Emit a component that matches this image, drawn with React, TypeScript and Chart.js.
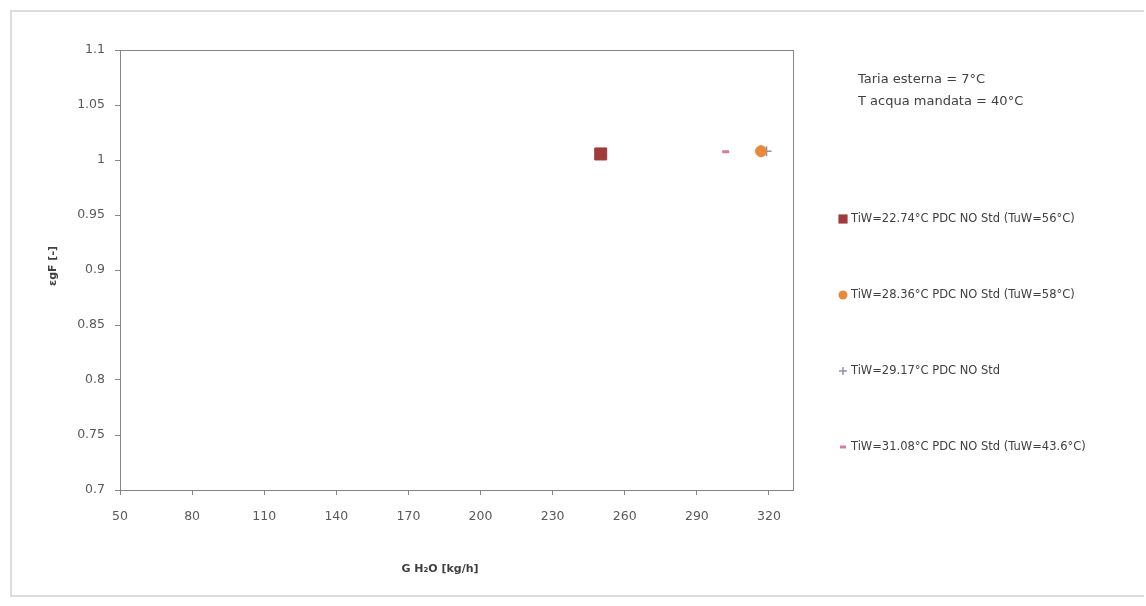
import React, { useEffect, useRef } from "react";
import { Chart, registerables } from "chart.js";

Chart.register(...registerables);

const seriesLabels = [
  "TiW=22.74°C PDC NO Std (TuW=56°C)",
  "TiW=28.36°C PDC NO Std (TuW=58°C)",
  "TiW=29.17°C PDC NO Std",
  "TiW=31.08°C PDC NO Std (TuW=43.6°C)",
];
const seriesX = [250, 316.7, 319, 302];
const seriesY = [1.0055, 1.008, 1.008, 1.0075];
const seriesColors = ["#A13B3B", "#E8893A", "#8E90BE", "#D57AA2"];
const seriesStyles = ["rect", "circle", "cross", "line"];
const seriesRadius = [8.5, 5.5, 5, 3.5];
const legendRadius = [6.5, 4.5, 4, 3];
const xTickValues = [50, 80, 110, 140, 170, 200, 230, 260, 290, 320];
const yTickValues = [0.7, 0.75, 0.8, 0.85, 0.9, 0.95, 1, 1.05, 1.1];
const noteLines = ["Taria esterna = 7°C", "T acqua mandata = 40°C"];
const xTitle = "G H₂O [kg/h]";
const yTitle = "εgF [-]";

const FONT = "'DejaVu Sans', 'Liberation Sans', sans-serif";

function drawMarker(ctx: CanvasRenderingContext2D, style: string, r: number, x: number, y: number) {
  ctx.beginPath();
  if (style === "rect") {
    const s = Math.SQRT1_2 * r;
    ctx.rect(x - s, y - s, 2 * s, 2 * s);
    ctx.fill();
  } else if (style === "circle") {
    ctx.arc(x, y, r, 0, Math.PI * 2);
    ctx.fill();
  } else if (style === "cross") {
    ctx.moveTo(x - r, y);
    ctx.lineTo(x + r, y);
    ctx.moveTo(x, y - r);
    ctx.lineTo(x, y + r);
    ctx.stroke();
  } else {
    ctx.moveTo(x - r, y);
    ctx.lineTo(x + r, y);
    ctx.stroke();
  }
}

export default function App() {
  const ref = useRef<HTMLCanvasElement | null>(null);
  useEffect(() => {
    if (!ref.current) return;
    const overlay = {
      id: "overlay",
      beforeDatasetsDraw(chart: any) {
        const { ctx, chartArea } = chart;
        ctx.save();
        ctx.strokeStyle = "#868686";
        ctx.lineWidth = 1;
        ctx.strokeRect(
          Math.round(chartArea.left) + 0.5,
          Math.round(chartArea.top) + 0.5,
          Math.round(chartArea.right - chartArea.left),
          Math.round(chartArea.bottom - chartArea.top)
        );
        ctx.restore();
      },
      afterDraw(chart: any) {
        const { ctx } = chart;
        ctx.save();
        ctx.textBaseline = "middle";
        ctx.fillStyle = "#404040";
        ctx.font = `bold 11px ${FONT}`;
        ctx.textAlign = "center";
        ctx.fillText(xTitle, 428, 557);
        ctx.save();
        ctx.translate(41, 254);
        ctx.rotate(-Math.PI / 2);
        ctx.fillText(yTitle, 0, 0);
        ctx.restore();
        ctx.textAlign = "left";
        ctx.font = `13px ${FONT}`;
        noteLines.forEach((t, i) => ctx.fillText(t, 846, 68 + i * 22));
        ctx.font = `11.5px ${FONT}`;
        chart.data.datasets.forEach((ds: any, i: number) => {
          const y = 207 + i * 76;
          const x = 831;
          ctx.fillStyle = ds.backgroundColor;
          ctx.strokeStyle = ds.borderColor;
          ctx.lineWidth = ds.borderWidth;
          drawMarker(ctx, ds.pointStyle, legendRadius[i], x, y);
          ctx.fillStyle = "#404040";
          ctx.fillText(ds.label, 839, y);
        });
        ctx.restore();
      },
    };
    const chart = new Chart(ref.current, {
      type: "scatter",
      data: {
        datasets: seriesLabels.map((label, i) => ({
          label,
          data: [{ x: seriesX[i], y: seriesY[i] }],
          backgroundColor: seriesColors[i],
          borderColor: seriesColors[i],
          borderWidth: seriesStyles[i] === "cross" ? 1.5 : seriesStyles[i] === "line" ? 3 : 1,
          pointStyle: seriesStyles[i] as any,
          pointRadius: seriesRadius[i],
        })),
      },
      options: {
        animation: false,
        responsive: false,
        maintainAspectRatio: false,
        layout: { padding: { left: 20, top: 38, right: 351, bottom: 20 } },
        plugins: { legend: { display: false }, tooltip: { enabled: false } },
        scales: {
          x: {
            type: "linear",
            min: 50,
            max: 330,
            afterBuildTicks: (s: any) => {
              s.ticks = xTickValues.map((v) => ({ value: v }));
            },
            afterFit: (s: any) => { s.height = 85; },
            ticks: { color: "#595959", font: { size: 12.5, family: FONT }, padding: 14, autoSkip: false, maxRotation: 0 },
            grid: { display: true, drawOnChartArea: false, tickLength: 5, color: "#868686" },
            border: { color: "#868686" },
          },
          y: {
            type: "linear",
            min: 0.7,
            max: 1.1,
            afterBuildTicks: (s: any) => {
              s.ticks = yTickValues.map((v) => ({ value: v }));
            },
            afterFit: (s: any) => { s.width = 88; },
            ticks: { color: "#595959", font: { size: 12.5, family: FONT }, padding: 10, callback: (v: any) => String(Number(Number(v).toFixed(2))) },
            grid: { display: true, drawOnChartArea: false, tickLength: 5, color: "#868686" },
            border: { color: "#868686" },
          },
        },
      },
      plugins: [overlay],
    } as any);
    return () => chart.destroy();
  }, []);
  return (
    <div
      style={{
        position: "absolute",
        left: 10,
        top: 10,
        width: 1134,
        height: 587,
        borderLeft: "2px solid #dcdcdc",
        borderTop: "2px solid #dcdcdc",
        borderBottom: "2px solid #dcdcdc",
        background: "#fff",
        boxSizing: "border-box",
        overflow: "hidden",
      }}
    >
      <canvas ref={ref} width={1132} height={583} style={{ display: "block" }} />
    </div>
  );
}
